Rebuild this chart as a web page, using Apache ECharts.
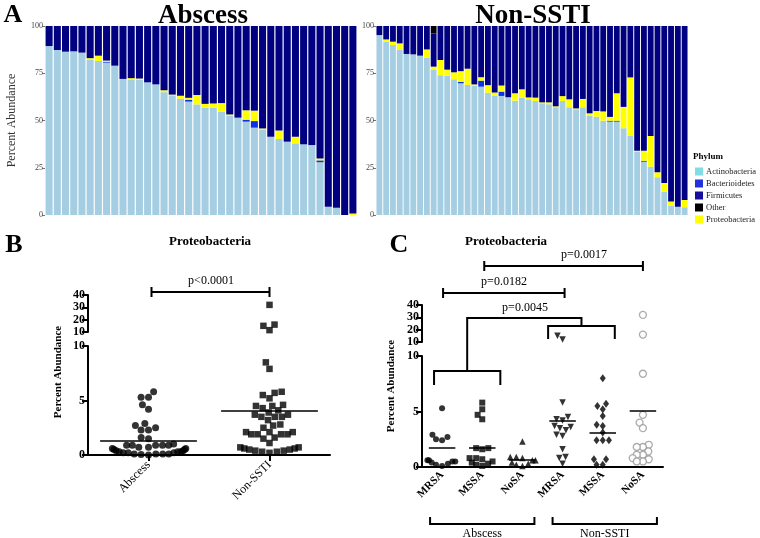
<!DOCTYPE html>
<html>
<head>
<meta charset="utf-8">
<script src="https://cdn.jsdelivr.net/npm/echarts@6/dist/echarts.min.js"></script>
<style>
html, body { margin: 0; padding: 0; background: #fff; }
#main { width: 760px; height: 538px; }
</style>
</head>
<body>
<div id="main"></div>
<script>
// ---- panel A: phylum composition per sample (percent) ----
var absActino = [89.4, 87.3, 86.4, 86.6, 85.9, 82.0, 81.5, 80.6, 79.0, 72.0, 71.4, 71.6, 70.2, 69.1, 65.0, 63.3, 61.5, 60.0, 58.5, 56.8, 56.8, 54.7, 52.6, 51.5, 49.4, 46.2, 45.0, 41.4, 40.2, 38.8, 37.9, 37.4, 37.0, 27.9, 4.4, 3.9, 0, 0];
var absBact = [0, 0, 0, 0, 0, 0, 0, 0.5, 0, 0, 0, 0, 0, 0, 0, 0, 0, 1.0, 0, 0, 0, 0, 0, 0, 1.0, 3.5, 0, 0, 0, 0, 0, 0, 0, 1.0, 0, 0, 0, 0];
var absProteo = [0, 0, 0, 0, 0, 1.0, 2.8, 0.6, 0, 0, 1.0, 0.6, 0, 0, 1.0, 0.4, 1.6, 1.0, 5.0, 2.0, 2.2, 4.5, 0.6, 0, 5.0, 5.5, 0.8, 0, 4.5, 0, 3.5, 0, 0, 1.0, 0, 0, 0, 0.8];
var absFirm = [10.6, 12.7, 13.6, 13.4, 14.1, 17.0, 15.7, 18.3, 21.0, 28.0, 27.6, 27.8, 29.8, 30.9, 34.0, 36.3, 36.9, 38.0, 36.5, 41.2, 41.0, 40.8, 46.8, 48.5, 44.6, 44.8, 54.2, 58.6, 55.3, 61.2, 58.6, 62.6, 63.0, 70.1, 95.6, 96.1, 100, 99.2];

var nonActino = [95.2, 91.7, 89.9, 87.3, 85.2, 85.0, 84.3, 83.2, 76.7, 74.0, 73.7, 71.8, 69.7, 68.8, 68.3, 67.9, 64.7, 63.0, 63.0, 62.3, 60.5, 62.1, 61.2, 60.3, 59.1, 58.6, 57.0, 60.3, 57.0, 55.9, 57.0, 52.4, 52.0, 49.9, 49.4, 49.4, 45.9, 41.8, 33.5, 28.2, 25.6, 20.0, 12.3, 5.0, 4.4, 4.1];
var nonBact = [0, 0, 0, 0, 0, 0, 0, 0, 0, 0, 0, 0, 0.8, 0, 0, 3.2, 0, 0, 2.3, 0, 0, 0, 0, 0, 0, 0, 0, 0, 0, 0, 0, 0, 0, 0, 0.5, 0.5, 0, 0, 0, 0.5, 0, 0, 0, 0, 0, 0];
var nonProteo = [0, 1.2, 1.8, 3.5, 0, 0, 0, 4.4, 1.8, 8.0, 3.2, 3.7, 5.6, 8.6, 0.8, 1.8, 4.0, 1.8, 3.2, 0, 3.9, 4.4, 1.0, 1.8, 0.5, 1.0, 0.5, 2.6, 4.2, 0.5, 4.4, 1.4, 3.0, 4.9, 2.0, 14.5, 11.3, 31.0, 0.5, 5.3, 16.2, 2.6, 4.6, 2.2, 0, 3.9];
var nonFirm = [4.8, 7.1, 8.3, 9.2, 14.8, 15.0, 15.7, 12.4, 17.6, 18.0, 23.1, 24.5, 23.9, 22.6, 30.9, 27.1, 31.3, 35.2, 31.5, 37.7, 35.6, 33.5, 37.8, 37.9, 40.4, 40.4, 42.5, 37.1, 38.8, 43.6, 38.6, 46.2, 45.0, 45.2, 48.1, 35.6, 42.8, 27.2, 66.0, 66.0, 58.2, 77.4, 83.1, 92.8, 95.6, 92.0];
var nonOther = [0, 0, 0, 0, 0, 0, 0, 0, 3.9, 0, 0, 0, 0, 0, 0, 0, 0, 0, 0, 0, 0, 0, 0, 0, 0, 0, 0, 0, 0, 0, 0, 0, 0, 0, 0, 0, 0, 0, 0, 0, 0, 0, 0, 0, 0, 0];

var phyla = ['Actinobacteria', 'Bacterioidetes', 'Firmicutes', 'Other', 'Proteobacteria'];
var ticksA = [0, 25, 50, 75, 100];

// ---- panel B: Proteobacteria percent by site ----
var groupsB = ['Abscess', 'Non-SSTI'];
var abscessB = [5.8, 5.3, 5.3, 4.6, 4.2, 2.9, 2.7, 2.5, 2.3, 2.3, 1.6, 1.5, 1.0, 0.9, 0.9, 0.9, 0.9, 0.9, 0.7, 0.7, 0.6, 0.6, 0.5, 0.5, 0.4, 0.4, 0.3, 0.3, 0.3, 0.2, 0.2, 0.2, 0.1, 0.1, 0.1, 0.1, 0.05, 0.0];
var nonSstiB = [32, 16, 15, 11.5, 8.5, 7.9, 5.8, 5.7, 5.5, 5.2, 4.6, 4.5, 4.5, 4.3, 4.1, 3.9, 3.7, 3.7, 3.5, 3.5, 3.5, 3.2, 2.8, 2.7, 2.5, 2.1, 2.1, 2.1, 1.9, 1.9, 1.9, 1.9, 1.6, 1.5, 1.1, 0.7, 0.7, 0.6, 0.6, 0.5, 0.5, 0.4, 0.4, 0.3, 0.3, 0.2];
var meanB = [1.3, 4.1];

// ---- panel C: Proteobacteria percent by site and S. aureus status ----
var groupsC = ['MRSA', 'MSSA', 'NoSA', 'MRSA', 'MSSA', 'NoSA'];
var mrsaAbs = [5.3, 2.9, 2.7, 2.5, 2.4, 0.6, 0.6, 0.5, 0.5, 0.4, 0.3, 0.2, 0.1];
var mssaAbs = [5.8, 5.2, 4.7, 4.3, 1.7, 1.7, 1.6, 0.8, 0.8, 0.7, 0.5, 0.4, 0.3, 0.2, 0.1];
var nosaAbs = [2.3, 0.9, 0.9, 0.8, 0.6, 0.6, 0.4, 0.3, 0.2, 0.1];
var mrsaNon = [15, 12, 5.8, 4.5, 4.3, 4.2, 3.7, 3.6, 3.5, 3.3, 2.9, 2.8, 1.6, 0.9, 0.8, 0.3];
var mssaNon = [8.0, 5.7, 5.5, 5.2, 4.6, 3.8, 3.7, 3.1, 2.4, 2.4, 2.4, 0.7, 0.7, 0.2, 0.2];
var nosaNon = [32, 16, 8.4, 4.7, 4.0, 3.5, 2.0, 1.8, 1.8, 1.4, 1.1, 1.1, 0.8, 0.7, 0.5, 0.5];
var meanC = [1.7, 1.75, 0.66, 4.2, 3.1, 5.1];

var serif = 'Liberation Serif';
var barColors = { Actinobacteria: '#a6cee3', Bacterioidetes: '#0b32e8', Firmicutes: '#000080', Other: '#000000', Proteobacteria: '#ffff00' };
var legendColors = ['#7fdde3', '#2233dd', '#16109c', '#000000', '#ffff00'];

// grid layout
var gB = { left: 88, width: 242, upTop: 295, upH: 37, lowTop: 346, lowH: 109 };
var gC = { left: 422, width: 241, upTop: 305, upH: 37, lowTop: 356, lowH: 111 };
function cxB(i) { return gB.left + (i + 0.5) * gB.width / groupsB.length; }
function cxC(i) { return gC.left + (i + 0.5) * gC.width / groupsC.length; }

// simple beeswarm: x offsets (px), wide rows squeezed toward maxHalf
function swarm(vals, pxY, dia, maxHalf) {
    var order = vals.map(function (v, i) { return i; }).sort(function (a, b) { return vals[a] - vals[b]; });
    var placed = [], out = [];
    order.forEach(function (i) {
        var y = vals[i] * pxY;
        var ivs = [];
        placed.forEach(function (p) {
            var dy = y - p.y;
            if (Math.abs(dy) < dia) {
                var dx = Math.sqrt(dia * dia - dy * dy);
                ivs.push([p.x - dx, p.x + dx]);
            }
        });
        var cands = [0];
        ivs.forEach(function (iv) { cands.push(iv[0], iv[1]); });
        cands.sort(function (a, b) { return Math.abs(a) - Math.abs(b); });
        var x = 0;
        for (var k = 0; k < cands.length; k++) {
            var c = cands[k];
            var ok = ivs.every(function (iv) { return c <= iv[0] + 1e-6 || c >= iv[1] - 1e-6; });
            if (ok) { x = c; break; }
        }
        placed.push({ x: x, y: y });
        out[i] = maxHalf * Math.tanh(x / maxHalf);
    });
    return out;
}

function splitPoints(vals, center, pxX, g, dia, maxHalf) {
    var low = vals.filter(function (v) { return v <= 10; });
    var high = vals.filter(function (v) { return v > 10; });
    var offLow = swarm(low, g.lowH / 10, dia, maxHalf);
    var offHigh = swarm(high, g.upH / 30, dia, maxHalf);
    return {
        low: low.map(function (v, i) { return [center + offLow[i] / pxX, v]; }),
        high: high.map(function (v, i) { return [center + offHigh[i] / pxX, v]; })
    };
}

function barSeries(name, data, xi) {
    return {
        name: name, type: 'bar', stack: 'a' + xi, xAxisIndex: xi, yAxisIndex: xi,
        data: data, barCategoryGap: '14%', itemStyle: { color: barColors[name] }
    };
}

var series = [
    barSeries('Actinobacteria', absActino, 0),
    barSeries('Bacterioidetes', absBact, 0),
    barSeries('Proteobacteria', absProteo, 0),
    barSeries('Firmicutes', absFirm, 0),
    barSeries('Actinobacteria', nonActino, 1),
    barSeries('Bacterioidetes', nonBact, 1),
    barSeries('Proteobacteria', nonProteo, 1),
    barSeries('Firmicutes', nonFirm, 1),
    barSeries('Other', nonOther, 1)
];

function meanLine(center, half, m) {
    return {
        silent: true, symbol: ['none', 'none'], label: { show: false },
        lineStyle: { color: '#000', width: 1.5, type: 'solid' },
        data: [[{ coord: [center - half, m] }, { coord: [center + half, m] }]]
    };
}

// panel B points
var symbolsB = [{ symbol: 'circle', size: 7 }, { symbol: 'rect', size: 6.5 }];
[abscessB, nonSstiB].forEach(function (vals, g) {
    var pts = splitPoints(vals, g + 0.5, gB.width / 2, gB, 7.5, 40);
    var st = { color: '#000' };
    series.push({ type: 'scatter', xAxisIndex: 3, yAxisIndex: 3, data: pts.low, symbol: symbolsB[g].symbol, symbolSize: symbolsB[g].size, itemStyle: st, markLine: meanLine(g + 0.5, 0.4, meanB[g]) });
    series.push({ type: 'scatter', xAxisIndex: 2, yAxisIndex: 2, data: pts.high, symbol: symbolsB[g].symbol, symbolSize: symbolsB[g].size, itemStyle: st });
});

// panel C points
var symbolsC = [
    { symbol: 'circle', size: 6, rot: 0, style: { color: '#000' } },
    { symbol: 'rect', size: 6, rot: 0, style: { color: '#000' } },
    { symbol: 'triangle', size: 6.5, rot: 0, style: { color: '#000' } },
    { symbol: 'triangle', size: 6.5, rot: 180, style: { color: '#000' } },
    { symbol: 'diamond', size: [6, 8], rot: 0, style: { color: '#000' } },
    { symbol: 'circle', size: 7, rot: 0, style: { color: '#fff', borderColor: '#999', borderWidth: 1.3 } }
];
[mrsaAbs, mssaAbs, nosaAbs, mrsaNon, mssaNon, nosaNon].forEach(function (vals, g) {
    var pts = splitPoints(vals, g + 0.5, gC.width / 6, gC, 6.5, 16);
    var s = symbolsC[g];
    series.push({ type: 'scatter', xAxisIndex: 6, yAxisIndex: 5, data: pts.low, symbol: s.symbol, symbolSize: s.size, symbolRotate: s.rot, itemStyle: s.style, markLine: meanLine(g + 0.5, 0.33, meanC[g]) });
    series.push({ type: 'scatter', xAxisIndex: 5, yAxisIndex: 4, data: pts.high, symbol: s.symbol, symbolSize: s.size, symbolRotate: s.rot, itemStyle: s.style });
});

// axes
var yAxisA = function (gi, withName) {
    return {
        type: 'value', gridIndex: gi, min: ticksA[0], max: ticksA[ticksA.length - 1], interval: 25,
        axisLine: { show: false }, splitLine: { show: false },
        axisTick: { show: true, length: 3, lineStyle: { color: '#777' } },
        axisLabel: { fontFamily: serif, fontSize: 8, color: '#444', margin: 2 },
        name: withName ? 'Percent Abundance' : '', nameLocation: 'middle', nameGap: 27,
        nameTextStyle: { fontFamily: serif, fontSize: 12, color: '#333' }
    };
};
var blackAxis = { lineStyle: { color: '#000', width: 2 } };
var blackTick = { length: 6, lineStyle: { color: '#000', width: 2 } };
var numLabel = { fontFamily: serif, fontWeight: 'bold', fontSize: 12, color: '#000', margin: 3 };
function yBroken(gi, lo, hi, step) {
    return {
        type: 'value', gridIndex: gi, min: lo, max: hi, interval: step,
        axisLine: { show: true, lineStyle: blackAxis.lineStyle }, axisTick: { show: true, length: 6, lineStyle: blackTick.lineStyle },
        axisLabel: numLabel, splitLine: { show: false }
    };
}
function xHidden(gi, max) {
    return { type: 'value', gridIndex: gi, min: 0, max: max, show: false };
}

// annotations
function bracket(x1, x2, y, cap) {
    return { type: 'polyline', shape: { points: [[x1, y - cap], [x1, y + cap], [x1, y], [x2, y], [x2, y - cap], [x2, y + cap]] }, style: { stroke: '#000', lineWidth: 2, fill: null } };
}
function txt(x, y, s, font) {
    return { type: 'text', x: x, y: y, style: { text: s, font: font, fill: '#000', align: 'center', verticalAlign: 'middle' } };
}
function poly(pts) {
    return { type: 'polyline', shape: { points: pts }, style: { stroke: '#000', lineWidth: 2, fill: null } };
}
var bandC = gC.width / 6;
var absL = cxC(0) - 0.2 * bandC, absR = cxC(1) + 0.45 * bandC, absMid = (absL + absR) / 2;
var nsL = cxC(3) - 0.36 * bandC, nsR = cxC(4) + 0.3 * bandC, nsMid = (nsL + nsR) / 2;
var graphics = [
    txt(13, 15, 'A', 'bold 26px ' + serif),
    txt(203, 16, 'Abscess', 'bold 27px ' + serif),
    txt(533, 16, 'Non-SSTI', 'bold 27px ' + serif),
    { type: 'text', x: 693, y: 157, style: { text: 'Phylum', font: 'bold 9px ' + serif, fill: '#000', verticalAlign: 'middle' } },
    txt(14, 245, 'B', 'bold 26px ' + serif),
    txt(210, 242, 'Proteobacteria', 'bold 13px ' + serif),
    txt(211, 281, 'p<0.0001', '12px ' + serif),
    bracket(cxB(0) + 3, cxB(1), 292, 5),
    { type: 'text', x: 58, y: 372, rotation: Math.PI / 2, style: { text: 'Percent Abundance', font: 'bold 11px ' + serif, fill: '#000', align: 'center', verticalAlign: 'middle' } },
    txt(399, 245, 'C', 'bold 26px ' + serif),
    txt(506, 242, 'Proteobacteria', 'bold 13px ' + serif),
    txt(584, 255, 'p=0.0017', '12px ' + serif),
    bracket(cxC(1) + 2, cxC(5), 266, 5),
    txt(504, 282, 'p=0.0182', '12px ' + serif),
    bracket(cxC(0) + 1, cxC(3) + 2, 293, 5),
    txt(525, 308, 'p=0.0045', '12px ' + serif),
    poly([[absL, 385], [absL, 371], [absR, 371], [absR, 385]]),
    poly([[absMid, 371], [absMid, 318], [nsMid, 318], [nsMid, 326]]),
    poly([[nsL, 339], [nsL, 326], [nsR, 326], [nsR, 339]]),
    { type: 'text', x: 391, y: 386, rotation: Math.PI / 2, style: { text: 'Percent Abundance', font: 'bold 11px ' + serif, fill: '#000', align: 'center', verticalAlign: 'middle' } },
    poly([[cxC(0) - 12, 517], [cxC(0) - 12, 524], [cxC(2) + 12, 524], [cxC(2) + 12, 517]]),
    poly([[cxC(3) - 10, 517], [cxC(3) - 10, 524], [cxC(5) + 14, 524], [cxC(5) + 14, 517]]),
    txt((cxC(0) + cxC(2)) / 2, 534, 'Abscess', '12px ' + serif),
    txt((cxC(3) + cxC(5)) / 2 + 2, 534, 'Non-SSTI', '12px ' + serif)
];

var option = {
    animation: false,
    backgroundColor: '#fff',
    grid: [
        { left: 45, top: 26, width: 312, height: 189 },
        { left: 376, top: 26, width: 312, height: 189 },
        { left: gB.left, top: gB.upTop, width: gB.width, height: gB.upH },
        { left: gB.left, top: gB.lowTop, width: gB.width, height: gB.lowH },
        { left: gC.left, top: gC.upTop, width: gC.width, height: gC.upH },
        { left: gC.left, top: gC.lowTop, width: gC.width, height: gC.lowH }
    ],
    xAxis: [
        { type: 'category', gridIndex: 0, data: absActino.map(function (v, i) { return 'a' + i; }), show: false },
        { type: 'category', gridIndex: 1, data: nonActino.map(function (v, i) { return 'n' + i; }), show: false },
        xHidden(2, groupsB.length),
        xHidden(3, groupsB.length),
        {
            type: 'category', gridIndex: 3, position: 'bottom', data: groupsB,
            axisLine: blackAxis, axisTick: { show: true, alignWithLabel: true, length: 6, lineStyle: blackTick.lineStyle },
            axisLabel: { fontFamily: serif, fontSize: 12, color: '#000', rotate: 45, margin: 8 }
        },
        xHidden(4, groupsC.length),
        xHidden(5, groupsC.length),
        {
            type: 'category', gridIndex: 5, position: 'bottom', data: groupsC,
            axisLine: blackAxis, axisTick: { show: false },
            axisLabel: { fontFamily: serif, fontWeight: 'bold', fontSize: 11, color: '#000', rotate: 45, margin: 6, interval: 0 }
        }
    ],
    yAxis: [
        yAxisA(0, true),
        yAxisA(1, false),
        yBroken(2, 10, 40, 10),
        yBroken(3, 0, 10, 5),
        yBroken(4, 10, 40, 10),
        yBroken(5, 0, 10, 5)
    ],
    legend: {
        left: 690, top: 162, orient: 'vertical', icon: 'rect',
        itemWidth: 8, itemHeight: 8, itemGap: 3,
        textStyle: { fontFamily: serif, fontSize: 8.5, color: '#222', padding: [0, 0, 0, -2] },
        data: phyla.map(function (p, i) { return { name: p, itemStyle: { color: legendColors[i] } }; })
    },
    series: series,
    graphic: graphics
};

var chart = echarts.init(document.getElementById('main'));
chart.setOption(option);
</script>
</body>
</html>
